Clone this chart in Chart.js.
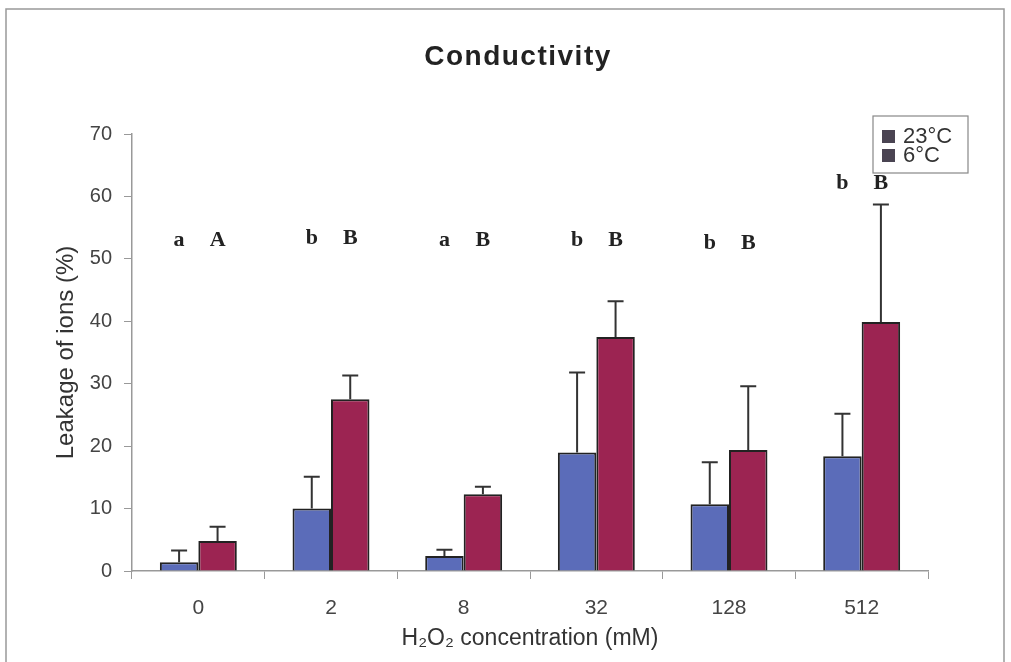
<!DOCTYPE html>
<html>
<head>
<meta charset="utf-8">
<script src="https://cdn.jsdelivr.net/npm/chart.js@4.4.1/dist/chart.umd.min.js"></script>
<style>
  html, body { margin: 0; padding: 0; background: #fff; }
  #wrap { width: 1011px; height: 662px; position: relative; }
</style>
</head>
<body>
<div id="wrap"><canvas id="chart" width="1011" height="662"></canvas></div>
<script>
// values
const concentrations = ['0', '2', '8', '32', '128', '512'];
const warm = [1.4, 10.0, 2.4, 19.0, 10.7, 18.4];      // 23°C
const warmErr = [1.9, 5.1, 1.0, 12.8, 6.7, 6.8];
const cold = [4.8, 27.5, 12.3, 37.5, 19.4, 39.9];     // 6°C
const coldErr = [2.3, 3.8, 1.2, 5.7, 10.2, 18.8];
const warmLetters = ['a', 'b', 'a', 'b', 'b', 'b'];
const coldLetters = ['A', 'B', 'B', 'B', 'B', 'B'];
const letterLevel = [53, 53.3, 53, 53, 52.5, 62.1];
const yTicks = [0, 10, 20, 30, 40, 50, 60, 70];

const blue = '#5b6cb9';
const red = '#9c2452';
const sans = '"Liberation Sans", Arial, sans-serif';

// error bars, letters, title, legend, frame
const extras = {
    id: 'extras',
    afterDatasetsDraw(chart) {
        const ctx = chart.ctx;
        const y = chart.scales.y;
        const errs = [warmErr, coldErr];
        const vals = [warm, cold];
        const letters = [warmLetters, coldLetters];
        ctx.save();
        for (let d = 0; d < 2; d++) {
            const meta = chart.getDatasetMeta(d);
            meta.data.forEach((bar, i) => {
                const top = y.getPixelForValue(vals[d][i] + errs[d][i]);
                const base = y.getPixelForValue(vals[d][i]);
                ctx.strokeStyle = '#333';
                ctx.lineWidth = 2;
                ctx.beginPath();
                ctx.moveTo(bar.x, base);
                ctx.lineTo(bar.x, top);
                ctx.moveTo(bar.x - 8, top);
                ctx.lineTo(bar.x + 8, top);
                ctx.stroke();

                ctx.fillStyle = '#222';
                ctx.font = 'bold 22px "Liberation Serif", serif';
                ctx.textAlign = 'center';
                ctx.textBaseline = 'middle';
                ctx.fillText(letters[d][i], bar.x, y.getPixelForValue(letterLevel[i]));
            });
        }
        ctx.restore();
    },
    afterDraw(chart) {
        const ctx = chart.ctx;
        ctx.save();
        // outer frame
        ctx.strokeStyle = '#999';
        ctx.lineWidth = 1.5;
        ctx.beginPath();
        ctx.moveTo(6, 662);
        ctx.lineTo(6, 9);
        ctx.lineTo(1004, 9);
        ctx.lineTo(1004, 662);
        ctx.stroke();

        // title
        ctx.fillStyle = '#222';
        ctx.font = 'bold 28px ' + sans;
        ctx.letterSpacing = '1.5px';
        ctx.textAlign = 'center';
        ctx.textBaseline = 'middle';
        ctx.fillText('Conductivity', 518, 57);
        ctx.letterSpacing = '0px';

        // legend
        ctx.strokeStyle = '#888';
        ctx.lineWidth = 1.2;
        ctx.fillStyle = '#fff';
        ctx.fillRect(873, 116, 95, 57);
        ctx.strokeRect(873, 116, 95, 57);
        const names = chart.data.datasets.map(ds => ds.label);
        ctx.font = '22px ' + sans;
        ctx.textAlign = 'left';
        names.forEach((n, k) => {
            const cy = 137 + k * 19;
            ctx.fillStyle = '#4a4452';
            ctx.fillRect(882, cy - 7, 13, 13);
            ctx.fillStyle = '#333';
            ctx.fillText(n, 903, cy);
        });
        ctx.restore();
    }
};

new Chart(document.getElementById('chart'), {
    type: 'bar',
    data: {
        labels: concentrations,
        datasets: [
            { label: '23°C', data: warm, backgroundColor: blue, borderColor: '#222', borderWidth: 2 },
            { label: '6°C', data: cold, backgroundColor: red, borderColor: '#222', borderWidth: 2 }
        ]
    },
    options: {
        responsive: false,
        animation: false,
        devicePixelRatio: 1,
        layout: { padding: { top: 134, right: 83, left: 48, bottom: 6 } },
        datasets: { bar: { categoryPercentage: 0.58, barPercentage: 1.0 } },
        plugins: { legend: { display: false }, title: { display: false }, tooltip: { enabled: false } },
        scales: {
            x: {
                grid: { display: true, drawOnChartArea: false, drawTicks: true, tickLength: 8, color: '#999', offset: true },
                border: { display: true, color: '#999', width: 1.5 },
                ticks: { color: '#444', font: { size: 21, family: sans }, padding: 17 },
                title: { display: true, text: 'H₂O₂ concentration (mM)', color: '#333', font: { size: 23, family: sans }, padding: { top: 0, bottom: 4 } },
                afterFit(scale) { scale.height = 85; }
            },
            y: {
                min: 0,
                max: 70,
                afterBuildTicks(scale) { scale.ticks = yTicks.map(v => ({ value: v })); },
                grid: { display: true, drawOnChartArea: false, drawTicks: true, tickLength: 8, color: '#999' },
                border: { display: true, color: '#999', width: 1.5 },
                ticks: { color: '#444', font: { size: 20, family: sans }, padding: 12 },
                title: { display: true, text: 'Leakage of ions (%)', color: '#333', font: { size: 24, family: sans }, padding: { top: 4, bottom: 0 } },
                afterFit(scale) { scale.width = 84; }
            }
        }
    },
    plugins: [extras]
});
</script>
</body>
</html>
